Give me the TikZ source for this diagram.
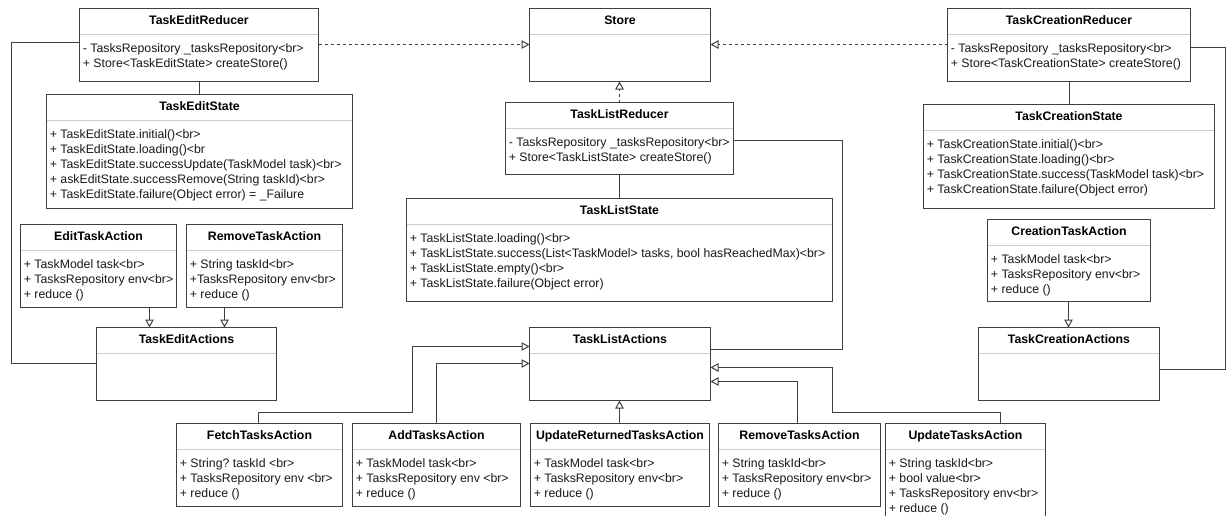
\documentclass[tikz,border=0pt]{standalone}
\usepackage{fontspec}
\setmainfont{Liberation Sans}
\usetikzlibrary{arrows.meta,calc}
\frenchspacing

\definecolor{linec}{RGB}{64,64,64}
\definecolor{sepc}{RGB}{205,205,205}
\definecolor{textc}{RGB}{25,25,25}

\tikzset{
  classbox/.style={draw=linec, line width=1pt, fill=white, inner sep=0pt, outer sep=0pt},
  sepline/.style={draw=sepc, line width=1pt},
  titletext/.style={inner sep=0pt, font=\fontsize{12.3}{15}\selectfont\bfseries, text=black},
  bodytext/.style={inner sep=0pt, font=\fontsize{12.3}{15}\selectfont, text=textc},
  assocline/.style={draw=linec, line width=1pt},
  genarrow/.style={assocline, -{Triangle[open,length=8pt,width=8.5pt,line width=1pt]}},
  realarrow/.style={genarrow, dash pattern=on 3pt off 3pt},
}

% \umlclass{name}{x}{y}{width}{height}{title}{list of member lines}
\newcommand\umlclass[7]{%
  \node[classbox, minimum width=#4pt, minimum height=#5pt, anchor=north west] (#1) at (#2,#3) {};
  \draw[sepline] ($(#1.north west)+(0.5,26)$) -- ($(#1.north east)+(-0.5,26)$);
  \node[titletext, anchor=base] (#1-t) at ($(#1.north)+(0,15.9)$) {#6};
  \foreach \ln [count=\k] in {#7} {
    \node[bodytext, anchor=base west] (#1-l\k) at ($(#1.north west)+(3.2,{44.1+15*(\k-1)})$) {\ln};
  }
}

\begin{document}
\begin{tikzpicture}[x=1pt, y=-1pt]
\useasboundingbox (0,0) rectangle (1227,515);
\clip (0,0) rectangle (1227,515);
\fill[white] (0,0) rectangle (1227,515);

% reducers and store
\umlclass{ter}{79.5}{8.5}{239}{73}{TaskEditReducer}{
  {- TasksRepository \_tasksRepository<br>},
  {+ Store<TaskEditState> createStore()}}
\umlclass{store}{529.5}{8.5}{181}{73}{Store}{}
\umlclass{tcr}{947.5}{8.5}{243}{73}{TaskCreationReducer}{
  {- TasksRepository \_tasksRepository<br>},
  {+ Store<TaskCreationState> createStore()}}
\umlclass{tlr}{505.5}{102.5}{228}{72}{TaskListReducer}{
  {- TasksRepository \_tasksRepository<br>},
  {+ Store<TaskListState> createStore()}}

% states
\umlclass{tes}{46.5}{94.5}{306}{114}{TaskEditState}{
  {+ TaskEditState.initial()<br>},
  {+ TaskEditState.loading()<br},
  {+ TaskEditState.successUpdate(TaskModel task)<br>},
  {+ askEditState.successRemove(String taskId)<br>},
  {+ TaskEditState.failure(Object error) = \_Failure}}
\umlclass{tcs}{923.5}{104.5}{291}{104}{TaskCreationState}{
  {+ TaskCreationState.initial()<br>},
  {+ TaskCreationState.loading()<br>},
  {+ TaskCreationState.success(TaskModel task)<br>},
  {+ TaskCreationState.failure(Object error)}}
\umlclass{tls}{406.5}{198.5}{426}{103}{TaskListState}{
  {+ TaskListState.loading()<br>},
  {+ TaskListState.success(List<TaskModel> tasks, bool hasReachedMax)<br>},
  {+ TaskListState.empty()<br>},
  {+ TaskListState.failure(Object error)}}

% single actions
\umlclass{eta}{20.5}{224.5}{156}{83}{EditTaskAction}{
  {+ TaskModel task<br>},
  {+ TasksRepository env<br>},
  {+ reduce ()}}
\umlclass{rta}{186.5}{224.5}{156}{83}{RemoveTaskAction}{
  {+ String taskId<br>},
  {+TasksRepository env<br>},
  {+ reduce ()}}
\umlclass{cta}{987.5}{219.5}{163}{82}{CreationTaskAction}{
  {+ TaskModel task<br>},
  {+ TasksRepository env<br>},
  {+ reduce ()}}

% action groups
\umlclass{tea}{96.5}{327.5}{180}{73}{TaskEditActions}{}
\umlclass{tla}{529.5}{327.5}{181}{73}{TaskListActions}{}
\umlclass{tca}{978.5}{327.5}{181}{73}{TaskCreationActions}{}

% list actions
\umlclass{fta}{176.5}{423.5}{166}{83}{FetchTasksAction}{
  {+ String? taskId <br>},
  {+ TasksRepository env <br>},
  {+ reduce ()}}
\umlclass{ata}{352.5}{423.5}{168}{83}{AddTasksAction}{
  {+ TaskModel task<br>},
  {+ TasksRepository env <br>},
  {+ reduce ()}}
\umlclass{urta}{530.5}{423.5}{179}{83}{UpdateReturnedTasksAction}{
  {+ TaskModel task<br>},
  {+ TasksRepository env<br>},
  {+ reduce ()}}
\umlclass{rmta}{718.5}{423.5}{162}{83}{RemoveTasksAction}{
  {+ String taskId<br>},
  {+ TasksRepository env<br>},
  {+ reduce ()}}
\umlclass{uta}{885.5}{423.5}{160}{100}{UpdateTasksAction}{
  {+ String taskId<br>},
  {+ bool value<br>},
  {+ TasksRepository env<br>},
  {+ reduce ()}}

% connector guide points
\coordinate (r1) at (0,44.5);       % level of the dashed realizations
\coordinate (x1) at (199.5,0);      % TaskEditReducer -> TaskEditState
\coordinate (x2) at (619.5,0);      % central column
\coordinate (x3) at (1069.5,0);     % TaskCreationReducer -> TaskCreationState
\coordinate (x4) at (1068.5,0);     % CreationTaskAction -> TaskCreationActions
\coordinate (c1) at (11.5,42.5);
\coordinate (c2) at (11.5,363.5);
\coordinate (c3) at (842.5,140.5);
\coordinate (c4) at (842.5,349.5);
\coordinate (c5) at (1225.5,47.5);
\coordinate (c6) at (1225.5,369.5);
\coordinate (c7) at (149.5,315);
\coordinate (c7b) at (224.5,315);
\coordinate (c8) at (258.5,412.5);
\coordinate (c9) at (412.5,412.5);
\coordinate (c10) at (412.5,346.5);
\coordinate (c11) at (436.5,363.5);
\coordinate (c12) at (797.5,381.5);
\coordinate (c13) at (1000.5,412.5);
\coordinate (c14) at (832.5,412.5);
\coordinate (c15) at (832.5,367.5);

% realizations of Store
\draw[realarrow] (ter.east |- r1) -- (store.west |- r1);
\draw[realarrow] (tcr.west |- r1) -- (store.east |- r1);
\draw[realarrow] (tlr.north -| x2) -- (store.south -| x2);

% reducer to state
\draw[assocline] (ter.south -| x1) -- (tes.north -| x1);
\draw[assocline] (tlr.south -| x2) -- (tls.north -| x2);
\draw[assocline] (tcr.south -| x3) -- (tcs.north -| x3);

% reducer to actions
\draw[assocline] (ter.west |- c1) -- (c1) -- (c2) -- (tea.west |- c2);
\draw[assocline] (tlr.east |- c3) -- (c3) -- (c4) -- (tla.east |- c4);
\draw[assocline] (tcr.east |- c5) -- (c5) -- (c6) -- (tca.east |- c6);

% generalizations
\draw[genarrow] (eta.south -| c7) -- (tea.north -| c7);
\draw[genarrow] (rta.south -| c7b) -- (tea.north -| c7b);
\draw[genarrow] (cta.south -| x4) -- (tca.north -| x4);
\draw[genarrow] (fta.north -| c8) -- (c8) -- (c9) -- (c10) -- (tla.west |- c10);
\draw[genarrow] (ata.north -| c11) -- (c11) -- (tla.west |- c11);
\draw[genarrow] (urta.north -| x2) -- (tla.south -| x2);
\draw[genarrow] (rmta.north -| c12) -- (c12) -- (tla.east |- c12);
\draw[genarrow] (uta.north -| c13) -- (c13) -- (c14) -- (c15) -- (tla.east |- c15);
\end{tikzpicture}
\end{document}
